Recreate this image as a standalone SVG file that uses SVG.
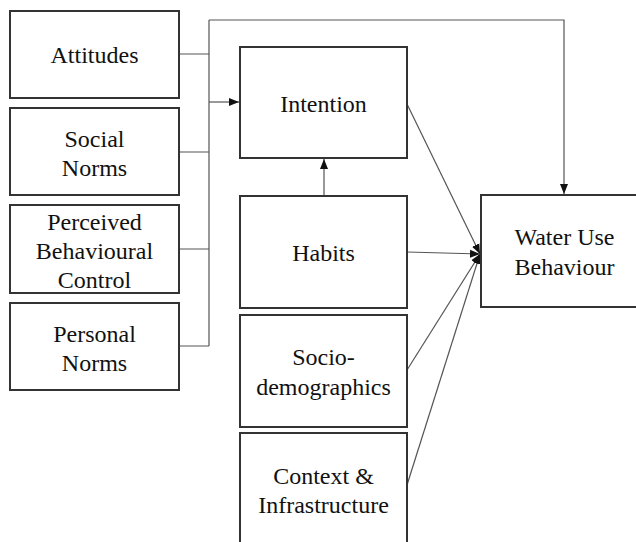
<svg xmlns="http://www.w3.org/2000/svg" width="636" height="542" viewBox="0 0 636 542">
<style>
.box{fill:#fff;stroke:#333;stroke-width:2}
.lbl{font-size:24px;fill:#111;text-anchor:middle}
.con{fill:none;stroke:#555;stroke-width:1.2}
</style>
<defs>
<marker id="ah" markerUnits="userSpaceOnUse" markerWidth="10" markerHeight="10" viewBox="0 0 10 10" refX="10" refY="5" orient="auto">
<path d="M0,1 L10,5 L0,9 Z" fill="#111"/>
</marker>
</defs>
<rect width="636" height="542" fill="#fff"/>
<g id="connectors">
<path class="con" d="M179,54 H209 M179,152 H209 M179,249 H209 M179,346 H209 M209,20 V346"/>
<path class="con" d="M209,102 H239" marker-end="url(#ah)"/>
<path class="con" d="M209,20 H564 V194" marker-end="url(#ah)"/>
<path class="con" d="M324,196 V159" marker-end="url(#ah)"/>
<path class="con" d="M407,104 L480,254" marker-end="url(#ah)"/>
<path class="con" d="M407,252 L480,254" marker-end="url(#ah)"/>
<path class="con" d="M407,370 L480,254" marker-end="url(#ah)"/>
<path class="con" d="M407,485 L480,254" marker-end="url(#ah)"/>
</g>
<g font-family="Liberation Serif, DejaVu Serif, serif">
<g id="attitudes"><rect class="box" x="10" y="11" width="169" height="87"/><text class="lbl" x="94.5" y="63">Attitudes</text></g>
<g id="social-norms"><rect class="box" x="10" y="108" width="169" height="87"/><text class="lbl" x="94.5" y="147">Social</text><text class="lbl" x="94.5" y="176">Norms</text></g>
<g id="pbc"><rect class="box" x="10" y="205" width="169" height="88"/><text class="lbl" x="94.5" y="230">Perceived</text><text class="lbl" x="94.5" y="259">Behavioural</text><text class="lbl" x="94.5" y="288">Control</text></g>
<g id="personal-norms"><rect class="box" x="10" y="303" width="169" height="87"/><text class="lbl" x="94.5" y="342">Personal</text><text class="lbl" x="94.5" y="371">Norms</text></g>
<g id="intention"><rect class="box" x="240" y="47" width="167" height="111"/><text class="lbl" x="323.5" y="112">Intention</text></g>
<g id="habits"><rect class="box" x="240" y="196" width="167" height="112"/><text class="lbl" x="323.5" y="261">Habits</text></g>
<g id="socio"><rect class="box" x="240" y="315" width="167" height="112"/><text class="lbl" x="323.5" y="365">Socio-</text><text class="lbl" x="323.5" y="395">demographics</text></g>
<g id="context"><rect class="box" x="240" y="433" width="167" height="120"/><text class="lbl" x="323.5" y="484">Context &amp;</text><text class="lbl" x="323.5" y="513">Infrastructure</text></g>
<g id="water-use"><rect class="box" x="481" y="195" width="170" height="112"/><text class="lbl" x="564.5" y="245">Water Use</text><text class="lbl" x="564.5" y="275">Behaviour</text></g>
</g>
</svg>
